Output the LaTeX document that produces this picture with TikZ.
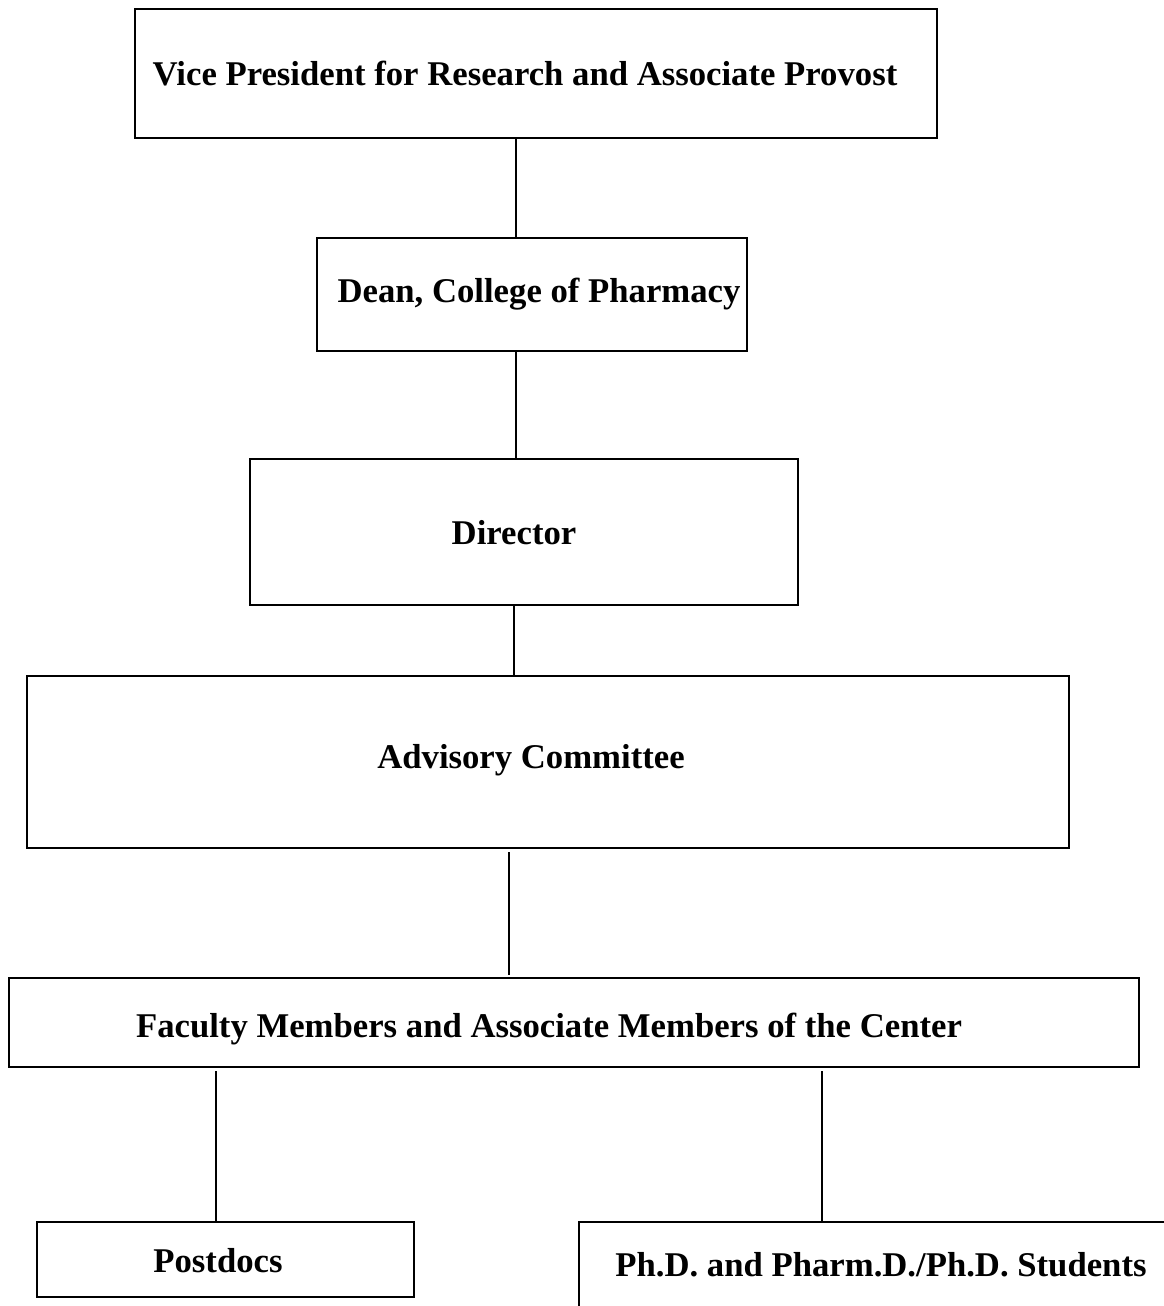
\documentclass[tikz,border=0pt]{standalone}
\usepackage{fontspec}
\setmainfont{Liberation Serif}
\begin{document}
\begin{tikzpicture}[x=1pt,y=-1pt,
  box/.style={draw=black,line width=2pt,rectangle,inner sep=0pt},
  lbl/.style={font=\bfseries\fontsize{34.7}{40}\selectfont,inner sep=0pt,anchor=center},
  conn/.style={line width=2pt,draw=black}]
\useasboundingbox (0,0) rectangle (1164,1306);
\clip (0,0) rectangle (1164,1306);
% boxes
\node[box,minimum width=802pt,minimum height=129pt] (b1) at (536,73.5) {};
\node[box,minimum width=430pt,minimum height=113pt] (b2) at (532,294.5) {};
\node[box,minimum width=548pt,minimum height=146pt] (b3) at (524,532) {};
\node[box,minimum width=1042pt,minimum height=172pt] (b4) at (548,762) {};
\node[box,minimum width=1130pt,minimum height=89pt,line width=2.5pt] (b5) at (574,1022.5) {};
\node[box,minimum width=377pt,minimum height=75pt] (b6) at (225.5,1259.5) {};
\node[box,minimum width=600pt,minimum height=100pt] (b7) at (879,1272) {};
% labels
\node[lbl] (t1) at (525,74) {Vice President for Research and Associate Provost};
\node[lbl] (t2) at (539,294) {Dean, College of Pharmacy};
\node[lbl] (t3) at (514,533) {Director};
\node[lbl] (t4) at (531,760) {Advisory Committee};
\node[lbl] (t5) at (549,1029) {Faculty Members and Associate Members of the Center};
\node[lbl] (t6) at (218,1261) {Postdocs};
\node[lbl] (t7) at (881,1265) {Ph.D. and Pharm.D./Ph.D. Students};
% connector x positions
\coordinate (c1) at (516,0);
\coordinate (c2) at (516,0);
\coordinate (c3) at (514,0);
\coordinate (c4) at (509,852);
\coordinate (c4e) at (509,975);
\coordinate (c5) at (216,1071);
\coordinate (c6) at (822,1071);
% connectors
\draw[conn] (b1.south -| c1) -- (b2.north -| c1);
\draw[conn] (b2.south -| c2) -- (b3.north -| c2);
\draw[conn] (b3.south -| c3) -- (b4.north -| c3);
\draw[conn] (c4) -- (c4e);
\draw[conn] (c5) -- (b6.north -| c5);
\draw[conn] (c6) -- (b7.north -| c6);
\end{tikzpicture}
\end{document}
